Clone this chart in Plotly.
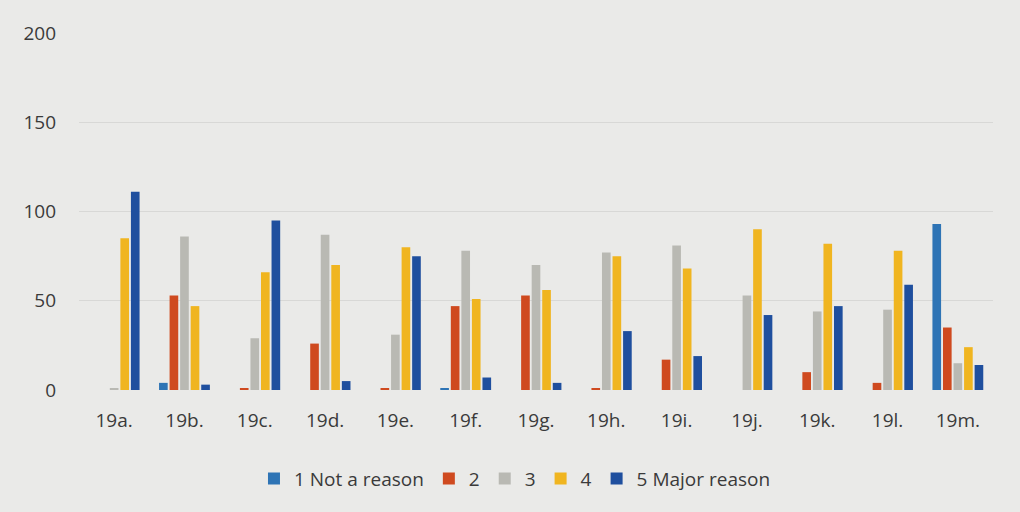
import plotly.graph_objects as go

categories = ["19a.", "19b.", "19c.", "19d.", "19e.", "19f.", "19g.", "19h.", "19i.", "19j.", "19k.", "19l.", "19m."]
s1_not_a_reason = [0, 4, 0, 0, 0, 1, 0, 0, 0, 0, 0, 0, 93]
s2 = [0, 53, 1, 26, 1, 47, 53, 1, 17, 0, 10, 4, 35]
s3 = [1, 86, 29, 87, 31, 78, 70, 77, 81, 53, 44, 45, 15]
s4 = [85, 47, 66, 70, 80, 51, 56, 75, 68, 90, 82, 78, 24]
s5_major_reason = [111, 3, 95, 5, 75, 7, 4, 33, 19, 42, 47, 59, 14]
series_names = ["1 Not a reason", "2", "3", "4", "5 Major reason"]
y_ticks = [0, 50, 100, 150, 200]

colors = ["#2e74b5", "#cf4a1f", "#b9b9b3", "#f0b520", "#1f4f9e"]
series = [s1_not_a_reason, s2, s3, s4, s5_major_reason]

fig = go.Figure()
for name, vals, col in zip(series_names, series, colors):
    fig.add_trace(go.Bar(x=categories, y=vals, name=name, marker_color=col,
                         marker_line_width=0))

font_family = "Open Sans, Liberation Sans, sans-serif"
fig.update_layout(
    width=1020, height=512,
    margin=dict(l=79, r=27, t=33, b=122),
    paper_bgcolor="#eaeae8",
    plot_bgcolor="#eaeae8",
    barmode="group",
    bargap=0.25,
    bargroupgap=0.18,
    font=dict(family=font_family, size=19, color="#3a3a3a"),
    showlegend=True,
    legend=dict(orientation="h", x=0.477, xanchor="center", y=-0.195, yanchor="top",
                font=dict(size=19, color="#3a3a3a"), itemwidth=30,
                bgcolor="rgba(0,0,0,0)"),
    xaxis=dict(showgrid=False, showline=False, zeroline=False, ticks="",
               ticklabelstandoff=17, tickfont=dict(size=19, color="#3a3a3a")),
    yaxis=dict(range=[0, 200], tickvals=y_ticks, showgrid=True, gridcolor="#d8d8d6",
               gridwidth=1, zeroline=False, showline=False, ticks="",
               ticklabelstandoff=22, tickfont=dict(size=19, color="#3a3a3a")),
)

fig.write_html("out.html")
